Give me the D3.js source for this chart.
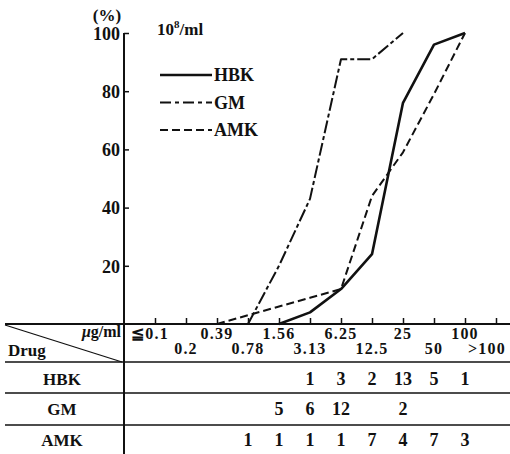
<!DOCTYPE html>
<html>
<head>
<meta charset="utf-8">
<script src="https://cdn.jsdelivr.net/npm/d3@7"></script>
<style>
  body { margin: 0; background: #fff; }
  svg text { font-family: "Liberation Serif", "DejaVu Serif", serif; font-weight: bold; fill: #111; }
</style>
</head>
<body>
<div id="chart_parent"></div>
<script>
const concentrations = ['≦0.1', '0.2', '0.39', '0.78', '1.56', '3.13', '6.25', '12.5', '25', '50', '100', '>100'];
const drugs = ['HBK', 'GM', 'AMK'];
const yTicks = [20, 40, 60, 80, 100];

// cumulative %
const hbkCurve = [['1.56', 0], ['3.13', 4], ['6.25', 12], ['12.5', 24], ['25', 76], ['50', 96], ['100', 100]];
const gmCurve = [['0.78', 0], ['1.56', 20], ['3.13', 43], ['6.25', 91], ['12.5', 91], ['25', 100]];
const amkCurve = [['0.39', 0], ['0.78', 3], ['1.56', 6], ['3.13', 9], ['6.25', 12], ['12.5', 44], ['25', 59], ['50', 79], ['100', 100]];

// strain counts in the table
const hbkCounts = [['3.13', 1], ['6.25', 3], ['12.5', 2], ['25', 13], ['50', 5], ['100', 1]];
const gmCounts = [['1.56', 5], ['3.13', 6], ['6.25', 12], ['25', 2]];
const amkCounts = [['0.78', 1], ['1.56', 1], ['3.13', 1], ['6.25', 1], ['12.5', 7], ['25', 4], ['50', 7], ['100', 3]];

const config = {
    width: 510,
    height: 454,
    axisX: 124,
    plotTop: 33,
    plotBottom: 324,
    firstTick: 155,
    lastTick: 496,
    rowLines: [362, 393, 425],
};

const series = [
    { name: 'HBK', curve: hbkCurve, counts: hbkCounts, dash: null, width: 2.6 },
    { name: 'GM', curve: gmCurve, counts: gmCounts, dash: '13,3,4,3', width: 2 },
    { name: 'AMK', curve: amkCurve, counts: amkCounts, dash: '8,4', width: 2 },
];

const svg = d3.select('#chart_parent').append('svg')
    .attr('width', config.width)
    .attr('height', config.height);

const x = d3.scalePoint()
    .domain(concentrations)
    .range([config.firstTick, config.lastTick]);

const y = d3.scaleLinear()
    .domain([0, 100])
    .range([config.plotBottom, config.plotTop]);

// y axis, ticks point inward
const yAxis = d3.axisRight(y).tickValues(yTicks).tickSize(5).tickFormat(d3.format('d'));
const yAxisGroup = svg.append('g')
    .attr('transform', `translate(${config.axisX},0)`)
    .call(yAxis);
yAxisGroup.select('.domain').remove();
yAxisGroup.selectAll('line').attr('stroke', '#111').attr('stroke-width', 1.5);
yAxisGroup.selectAll('text')
    .attr('x', -4)
    .attr('dy', '0.35em')
    .attr('text-anchor', 'end')
    .style('font-size', '18px');

// the vertical rule runs down through the table
svg.append('line')
    .attr('x1', config.axisX).attr('x2', config.axisX)
    .attr('y1', config.plotTop).attr('y2', config.height)
    .attr('stroke', '#111').attr('stroke-width', 2);

// x axis: ticks point up, labels staggered in two rows
const xAxis = d3.axisTop(x).tickSize(6).tickFormat('');
const xAxisGroup = svg.append('g')
    .attr('transform', `translate(0,${config.plotBottom})`)
    .call(xAxis);
xAxisGroup.select('.domain').remove();
xAxisGroup.selectAll('line').attr('stroke', '#111').attr('stroke-width', 1.5);

svg.append('line')
    .attr('x1', 5).attr('x2', config.width)
    .attr('y1', config.plotBottom).attr('y2', config.plotBottom)
    .attr('stroke', '#111').attr('stroke-width', 2);

svg.selectAll('.conc-label')
    .data(concentrations)
    .enter()
    .append('text')
    .attr('class', 'conc-label')
    .attr('x', (d, i) => (d === '>100' ? x(d) - 9 : x(d) - (i === 0 ? 5 : 0)))
    .attr('y', (d, i) => (i % 2 === 0 ? 339 : 354))
    .attr('text-anchor', 'middle')
    .style('font-size', '16px')
    .style('letter-spacing', '1.2px')
    .text(d => d);

// curves
const line = d3.line()
    .x(d => x(d[0]))
    .y(d => y(d[1]));

svg.selectAll('.curve')
    .data(series)
    .enter()
    .append('path')
    .attr('class', 'curve')
    .attr('d', s => line(s.curve))
    .attr('fill', 'none')
    .attr('stroke', '#111')
    .attr('stroke-width', s => s.width)
    .attr('stroke-dasharray', s => s.dash)
    .attr('stroke-linejoin', 'round');

// headings
svg.append('text').attr('x', 107).attr('y', 21).attr('text-anchor', 'middle')
    .style('font-size', '17px').text('(%)');
const unit = svg.append('text').attr('x', 157).attr('y', 35).style('font-size', '17px');
unit.append('tspan').text('10');
unit.append('tspan').attr('dy', -7).style('font-size', '11px').text('8');
unit.append('tspan').attr('dy', 7).text('/ml');

// legend
const legend = svg.selectAll('.legend')
    .data(series)
    .enter()
    .append('g')
    .attr('class', 'legend')
    .attr('transform', (d, i) => `translate(160,${75 + i * 27.5})`);
legend.append('line')
    .attr('x1', 0).attr('x2', 52)
    .attr('stroke', '#111')
    .attr('stroke-width', s => s.width)
    .attr('stroke-dasharray', s => (s.name === 'GM' ? '11,4,4,4' : s.dash));
legend.append('text')
    .attr('x', 54).attr('dy', '0.36em')
    .style('font-size', '18px')
    .text(s => s.name);

// table
svg.selectAll('.row-line')
    .data(config.rowLines)
    .enter()
    .append('line')
    .attr('x1', 5).attr('x2', config.width)
    .attr('y1', d => d).attr('y2', d => d)
    .attr('stroke', '#111').attr('stroke-width', 1.6);

svg.append('line')
    .attr('x1', 5).attr('y1', config.plotBottom + 1)
    .attr('x2', config.axisX - 2).attr('y2', config.rowLines[0])
    .attr('stroke', '#111').attr('stroke-width', 1.3);

svg.append('text').attr('x', 121).attr('y', 337).attr('text-anchor', 'end')
    .style('font-size', '16px').html('<tspan font-style="italic">μ</tspan>g/ml');
svg.append('text').attr('x', 8).attr('y', 356)
    .style('font-size', '17px').text('Drug');

const rowBase = [385, 415, 446];
const rows = svg.selectAll('.row')
    .data(series)
    .enter()
    .append('g')
    .attr('class', 'row')
    .attr('transform', (d, i) => `translate(0,${rowBase[i]})`);
rows.append('text')
    .attr('x', 62).attr('text-anchor', 'middle')
    .style('font-size', '17px')
    .text(s => s.name);
rows.selectAll('.count')
    .data(s => s.counts)
    .enter()
    .append('text')
    .attr('class', 'count')
    .attr('x', d => x(d[0]))
    .attr('text-anchor', 'middle')
    .style('font-size', '18px')
    .text(d => d[1]);
</script>
</body>
</html>
